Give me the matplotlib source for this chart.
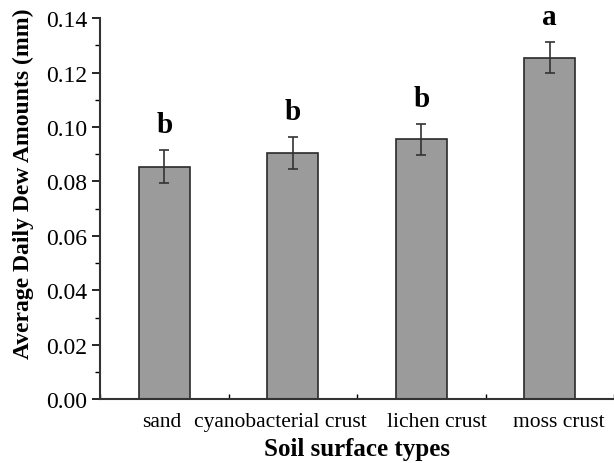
import matplotlib.pyplot as plt
from matplotlib.ticker import MultipleLocator
from matplotlib.transforms import ScaledTranslation

categories = ["sand", "cyanobacterial crust", "lichen crust", "moss crust"]
dew_means = [0.0855, 0.0905, 0.0955, 0.1255]
dew_errors = [0.0059, 0.0060, 0.0057, 0.0058]
group_letters = ["b", "b", "b", "a"]

plt.rcParams["font.family"] = ["Liberation Serif", "DejaVu Serif"]

fig, ax = plt.subplots(figsize=(6.14, 4.64), dpi=100)
fig.subplots_adjust(left=0.163, right=1.0, top=0.959, bottom=0.137)

positions = list(range(len(categories)))
ax.bar(
    positions,
    dew_means,
    width=0.4,
    color="#9a9b9a",
    edgecolor="#2a2a2a",
    linewidth=1.2,
    yerr=dew_errors,
    capsize=3.3,
    error_kw={"elinewidth": 1.2, "capthick": 1.2, "ecolor": "#333333"},
    zorder=2,
)

for x, mean, err, letter in zip(positions, dew_means, dew_errors, group_letters):
    ax.text(x, mean + err + 0.0066, letter, ha="center", va="baseline",
            fontsize=21, fontweight="bold")

ax.set_xlim(-0.5, 3.5)
ax.set_ylim(0, 0.14)
ax.set_xticks(positions)
ax.set_xticklabels([""] * len(categories))
ax.xaxis.set_minor_locator(MultipleLocator(0.5))
ax.yaxis.set_major_locator(MultipleLocator(0.02))
ax.yaxis.set_minor_locator(MultipleLocator(0.01))
ax.yaxis.set_major_formatter(plt.FormatStrFormatter("%.2f"))

# category labels are nudged sideways in the original so they don't collide
label_nudges_px = [-3, -12, 16, 9]
for x, name, nudge in zip(positions, categories, label_nudges_px):
    shift = ScaledTranslation(nudge / 100, -12.5 / 100, fig.dpi_scale_trans)
    ax.text(x, 0, name, ha="center", va="top", fontsize=15.5,
            transform=ax.get_xaxis_transform() + shift)

ax.spines["top"].set_visible(False)
ax.spines["right"].set_visible(False)
for side in ("left", "bottom"):
    ax.spines[side].set_linewidth(1.5)
    ax.spines[side].set_color("#333333")

ax.tick_params(axis="y", which="major", direction="out", length=6, width=1.2,
               labelsize=17, pad=3)
ax.tick_params(axis="y", which="minor", direction="out", length=3.5, width=1.0)
ax.tick_params(axis="x", which="major", direction="in", length=5, width=1.2,
               labelsize=15.5, pad=9)
ax.tick_params(axis="x", which="minor", direction="in", length=3.5, width=1.0)

ax.set_xlabel("Soil surface types", fontsize=18, fontweight="bold")
ax.xaxis.set_label_coords(0.5, -0.098)
ax.set_ylabel("Average Daily Dew Amounts (mm)", fontsize=17, fontweight="bold")
ax.yaxis.set_label_coords(-0.128, 0.567)

fig.savefig("out.png", dpi=100)
plt.close(fig)
